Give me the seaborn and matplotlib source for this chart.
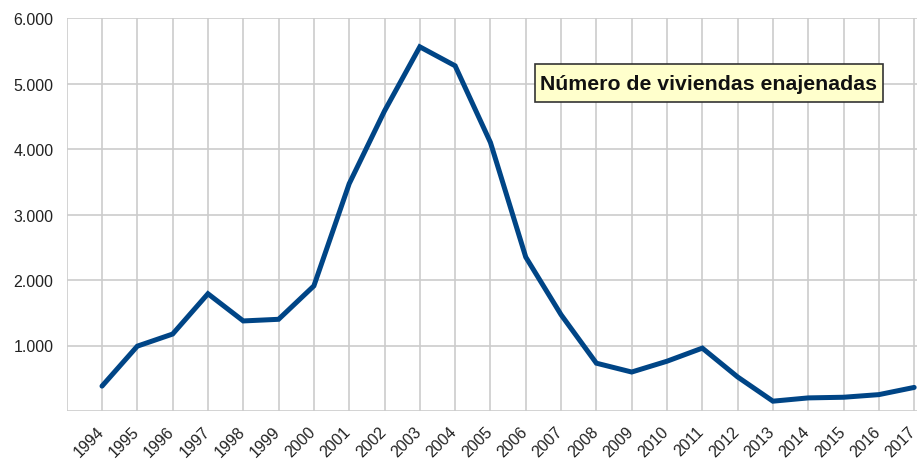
import numpy as np
import pandas as pd
import matplotlib
matplotlib.use('Agg')
import matplotlib.pyplot as plt
import matplotlib.transforms as mtransforms
from matplotlib.patches import Rectangle
import seaborn as sns
from matplotlib.ticker import FuncFormatter

# Data
years = list(range(1994, 2018))
viviendas = [380, 990, 1175, 1790, 1375, 1400, 1910, 3470, 4580, 5560,
             5270, 4100, 2350, 1470, 730, 595, 760, 960, 520, 150,
             200, 210, 250, 360]
y_ticks = [0, 1000, 2000, 3000, 4000, 5000, 6000]
title_text = 'Número de viviendas enajenadas'

df = pd.DataFrame({'year': years, 'viviendas': viviendas})

sns.set_style('white')
plt.rcParams['font.family'] = ['Liberation Sans', 'DejaVu Sans']

W, H = 917, 460
fig = plt.figure(figsize=(W / 100, H / 100), dpi=100)
ax_left, ax_top, ax_bottom = 66.7, 19, 412
ax = fig.add_axes([ax_left / W, 1 - ax_bottom / H, 1 - ax_left / W,
                   (ax_bottom - ax_top) / H])

sns.lineplot(data=df, x='year', y='viviendas', ax=ax, color='#004586',
             linewidth=3.6, solid_joinstyle='miter')

ax.set_xlim(1993, 2017.08)
ax.set_ylim(0, 6000)
ax.set_xticks(list(range(1993, 2018)))
ax.set_xticklabels([''] + [str(y) for y in years])
ax.set_yticks(y_ticks)
ax.yaxis.set_major_formatter(FuncFormatter(
    lambda v, p: '' if v == 0 else f'{int(v):,}'.replace(',', '.')))

ax.grid(True, color='#cccccc', linewidth=1.2)
ax.set_axisbelow(True)
for s in ax.spines.values():
    s.set_visible(False)

ax.tick_params(axis='both', length=6, width=1.2, color='#cccccc',
               labelsize=11.5, labelcolor='#222222')
ax.tick_params(axis='x', pad=2)

# shift rotated year labels a bit down-left, like the original
offset = mtransforms.ScaledTranslation(-6 / 100, -1.5 / 100, fig.dpi_scale_trans)
for lbl in ax.get_xticklabels():
    lbl.set_rotation(45)
    lbl.set_ha('right')
    lbl.set_rotation_mode('anchor')
    lbl.set_transform(lbl.get_transform() + offset)

ax.set_xlabel('')
ax.set_ylabel('')

# title box (pixel box 535..883 x 65..103)
aw, ah = W - ax_left, ax_bottom - ax_top
bx0, bx1, by0, by1 = 535, 883, 65, 103
ax.add_patch(Rectangle(((bx0 - ax_left) / aw, (ax_bottom - by1) / ah),
                       (bx1 - bx0) / aw, (by1 - by0) / ah,
                       transform=ax.transAxes, facecolor='#ffffcc',
                       edgecolor='#333333', linewidth=1.2, zorder=5))
ax.text(((bx0 + bx1) / 2 - ax_left) / aw, (ax_bottom - (by0 + by1) / 2) / ah,
        title_text, transform=ax.transAxes, fontsize=15.3,
        fontweight='bold', color='#111111', ha='center', va='center',
        zorder=6)

fig.savefig('out.png', dpi=100)
